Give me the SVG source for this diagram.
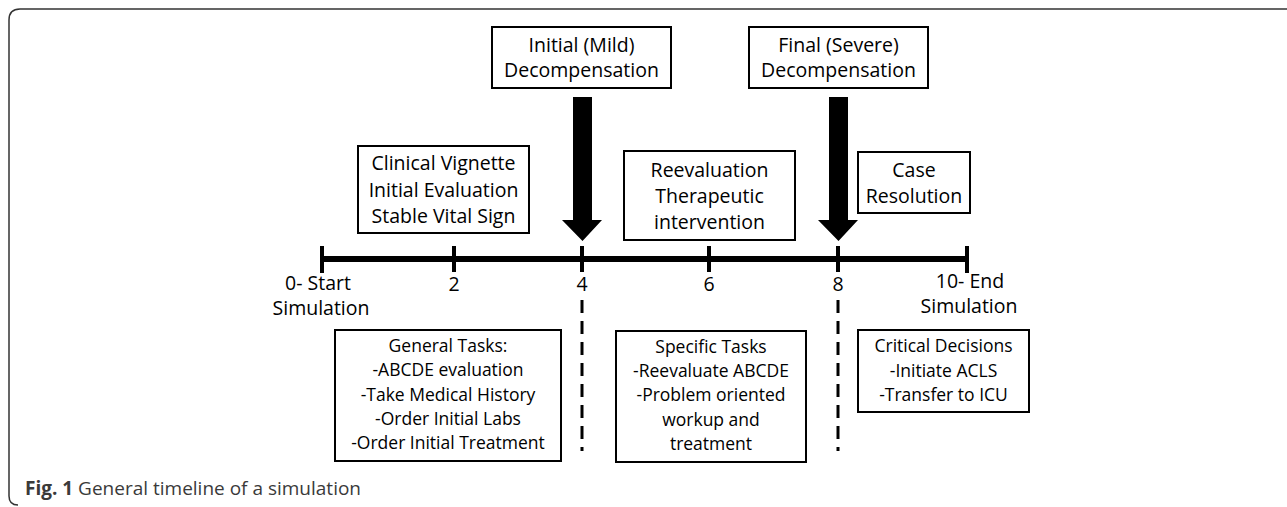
<svg xmlns="http://www.w3.org/2000/svg" width="1287" height="507" viewBox="0 0 1287 507">
<style>
.box{fill:#fff;stroke:#000;stroke-width:2}
.t{font-family:"Open Sans","Liberation Sans",sans-serif;font-size:19.5px;fill:#000;text-anchor:middle}
.s{font-size:17.5px}
.axis{stroke:#000;stroke-width:6;fill:none}
.tick{stroke:#000;stroke-width:4;fill:none}
.dash{stroke:#000;stroke-width:3;stroke-dasharray:13 8;fill:none}
.cap{font-family:"Open Sans","Liberation Sans",sans-serif;font-size:19px;fill:#3a3a3a}
</style>
<rect width="1287" height="507" fill="#fff"/>
<path d="M1290 9 H20 Q9 9 9 20 V496 Q9 505 18 505" fill="none" stroke="#333" stroke-width="1.5"/>
<g id="connectors">
<line class="axis" x1="322" y1="259" x2="967" y2="259"/>
<line class="tick" x1="322" y1="246" x2="322" y2="273"/>
<line class="tick" x1="454" y1="246" x2="454" y2="272"/>
<line class="tick" x1="582" y1="246" x2="582" y2="272"/>
<line class="tick" x1="709" y1="246" x2="709" y2="272"/>
<line class="tick" x1="838" y1="246" x2="838" y2="272"/>
<line class="tick" x1="967" y1="246" x2="967" y2="273"/>
<line class="dash" x1="582" y1="300" x2="582" y2="451"/>
<line class="dash" x1="838" y1="300" x2="838" y2="451"/>
<polygon points="573,97 592,97 592,220 602,220 582.5,241 562,220 573,220" fill="#000"/>
<polygon points="829,97 848,97 848,220 858,220 838.5,241 818,220 829,220" fill="#000"/>
</g>
<g id="labels">
<text class="t" x="318" y="290">0- Start</text>
<text class="t" x="321" y="315">Simulation</text>
<text class="t" x="454" y="291">2</text>
<text class="t" x="582" y="291">4</text>
<text class="t" x="709" y="291">6</text>
<text class="t" x="838" y="291">8</text>
<text class="t" x="970" y="288">10- End</text>
<text class="t" x="969" y="313">Simulation</text>
</g>
<g id="n-clinical">
<rect class="box" x="358" y="146" width="171" height="87"/>
<text class="t" x="443.5" y="170">Clinical Vignette</text>
<text class="t" x="443.5" y="197">Initial Evaluation</text>
<text class="t" x="443.5" y="223">Stable Vital Sign</text>
</g>
<g id="n-initial">
<rect class="box" x="492" y="27" width="179" height="61"/>
<text class="t" x="581.5" y="52">Initial (Mild)</text>
<text class="t" x="581.5" y="77">Decompensation</text>
</g>
<g id="n-final">
<rect class="box" x="749" y="27" width="179" height="61"/>
<text class="t" x="838.5" y="52">Final (Severe)</text>
<text class="t" x="838.5" y="77">Decompensation</text>
</g>
<g id="n-reeval">
<rect class="box" x="624" y="151" width="171" height="89"/>
<text class="t" x="709.5" y="177">Reevaluation</text>
<text class="t" x="709.5" y="203">Therapeutic</text>
<text class="t" x="709.5" y="229">intervention</text>
</g>
<g id="n-case">
<rect class="box" x="858" y="152" width="112" height="61"/>
<text class="t" x="914" y="177">Case</text>
<text class="t" x="914" y="203">Resolution</text>
</g>
<g id="n-general">
<rect class="box" x="335" y="330" width="226" height="131"/>
<text class="t s" x="448" y="352">General Tasks:</text>
<text class="t s" x="448" y="376">-ABCDE evaluation</text>
<text class="t s" x="448" y="401">-Take Medical History</text>
<text class="t s" x="448" y="425">-Order Initial Labs</text>
<text class="t s" x="448" y="449">-Order Initial Treatment</text>
</g>
<g id="n-specific">
<rect class="box" x="616" y="331" width="190" height="131"/>
<text class="t s" x="711" y="353">Specific Tasks</text>
<text class="t s" x="711" y="377">-Reevaluate ABCDE</text>
<text class="t s" x="711" y="401">-Problem oriented</text>
<text class="t s" x="711" y="426">workup and</text>
<text class="t s" x="711" y="450">treatment</text>
</g>
<g id="n-critical">
<rect class="box" x="858" y="330" width="171" height="82"/>
<text class="t s" x="943.5" y="352">Critical Decisions</text>
<text class="t s" x="943.5" y="377">-Initiate ACLS</text>
<text class="t s" x="943.5" y="401">-Transfer to ICU</text>
</g>
<text class="cap" x="25" y="495"><tspan font-weight="bold">Fig. 1</tspan> General timeline of a simulation</text>
</svg>
